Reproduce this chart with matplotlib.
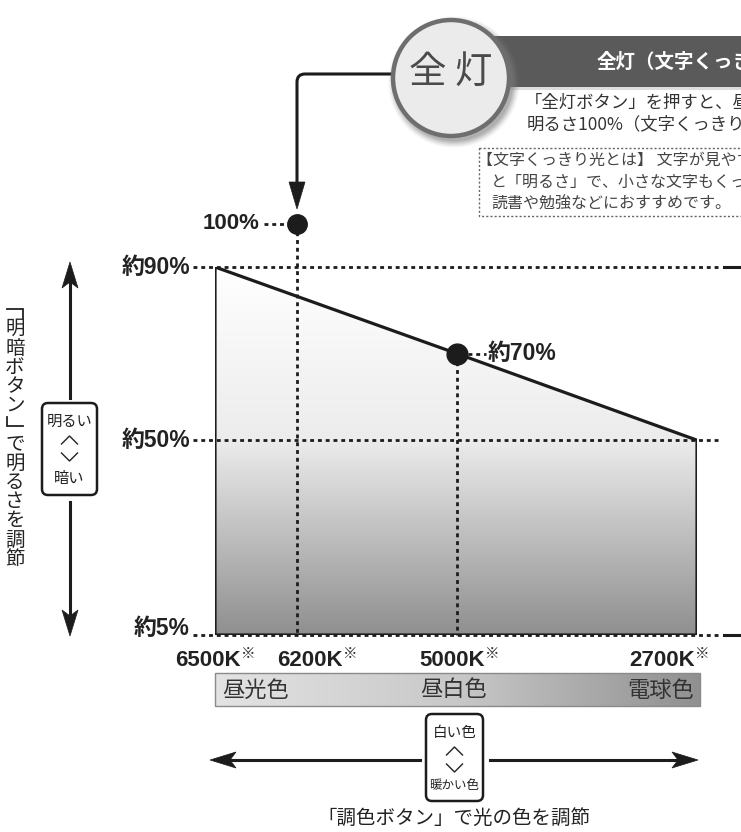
import numpy as np
import matplotlib
matplotlib.use('Agg')
import matplotlib.pyplot as plt
from matplotlib.patches import Polygon, Rectangle, FancyBboxPatch, Circle, PathPatch
from matplotlib.path import Path
from matplotlib.colors import LinearSegmentedColormap

# ---------------- data ----------------
temps = ['6500K', '6200K', '5000K', '2700K']
temp_pos = [0.0, 0.17, 0.502, 1.0]          # position of each temperature along the colour axis
line_idx = [0, 2, 3]                         # temperatures on the sloped edge
line_vals = [90, 70, 50]                     # brightness (%) at 6500K, 5000K, 2700K
min_val = 5                                  # minimum brightness (%)
full_idx = 1                                 # full-light colour temperature (6200K)
full_val = 100                               # full-light brightness (%)
y_ticks = [90, 50, 5]
y_ticklabels = ['約90%', '約50%', '約5%']
full_label = '100%'
mid_label = '約70%'
color_names = ['昼光色', '昼白色', '電球色']

title_circle = '全 灯'
banner_text = '全灯（文字くっきり光）'
desc_lines = ['「全灯ボタン」を押すと、昼白色の', '明るさ100%（文字くっきり光）になります。']
note_lines = ['【文字くっきり光とは】 文字が見やすい「光の色」',
              'と「明るさ」で、小さな文字もくっきり見える光です。',
              '読書や勉強などにおすすめです。']
v_label = '「明暗ボタン」で明るさを調節'
v_box = ['明るい', '暗い']
h_label = '「調色ボタン」で光の色を調節'
h_box = ['白い色', '暖かい色']

JP = 'Noto Sans CJK JP'
NUM = ['Liberation Sans', JP]
plt.rcParams['font.family'] = [JP, 'DejaVu Sans']

W, H = 741, 832
fig = plt.figure(figsize=(W / 100, H / 100), dpi=100)
fig.patch.set_facecolor('white')

# overlay axes in pixel coordinates for decorations
ov = fig.add_axes([0, 0, 1, 1], zorder=1)
ov.axis('off')

# chart axes (x: colour temperature layout, y: brightness %)
px_left, px_right, px_bottom, px_top = 215, 697, 635, 267
ax = fig.add_axes([px_left / W, (H - px_bottom) / H, (px_right - px_left) / W,
                   (px_bottom - px_top) / H], zorder=2)
ax.axis('off')

dark = '#1c1c1c'
dot_ls = (0, (1.4, 1.4))

# gradient fill area
verts = [(temp_pos[i], v) for i, v in zip(line_idx, line_vals)]
verts += [(temp_pos[line_idx[-1]], min_val), (temp_pos[line_idx[0]], min_val)]
poly = Polygon(verts, closed=True, fc='none', ec=dark, lw=2.3, zorder=5, joinstyle='miter')
ax.add_patch(poly)
cmap_v = LinearSegmentedColormap.from_list('v', [(0, '#8f8f8f'), (0.53, '#ececec'), (1, '#ffffff')])
grad = np.linspace(0, 1, 256).reshape(-1, 1)
im = ax.imshow(grad, extent=(0, 1, min_val, 90), origin='lower', aspect='auto', cmap=cmap_v,
               zorder=1, interpolation='bilinear')
im.set_clip_path(poly)
ax.set_xlim(0, 1)
ax.set_ylim(min_val, 90)

def fx(px):
    return (px - px_left) / (px_right - px_left)

# dotted reference lines
for v in y_ticks:
    ax.plot([fx(193), fx(721)], [v, v], ls=dot_ls, lw=2, color=dark, clip_on=False, zorder=3)
for v in (y_ticks[0], y_ticks[-1]):
    ax.plot([fx(724), fx(745)], [v, v], ls='-', lw=2.2, color=dark, clip_on=False, zorder=3)
ax.plot([temp_pos[full_idx]] * 2, [full_val, min_val], ls=dot_ls, lw=2, color=dark, clip_on=False, zorder=3)
ax.plot([temp_pos[line_idx[1]]] * 2, [line_vals[1], min_val], ls=dot_ls, lw=2, color=dark, clip_on=False, zorder=3)
ax.plot([fx(264), fx(287)], [full_val] * 2, ls=dot_ls, lw=2, color=dark, clip_on=False, zorder=3)
ax.plot([fx(468), fx(486)], [line_vals[1]] * 2, ls=dot_ls, lw=2, color=dark, clip_on=False, zorder=3)

# dots
ax.plot([temp_pos[full_idx]], [full_val], 'o', ms=14, color=dark, clip_on=False, zorder=7)
ax.plot([temp_pos[line_idx[1]]], [line_vals[1]], 'o', ms=15, color=dark, clip_on=False, zorder=7)

# y labels
for v, lab in zip(y_ticks, y_ticklabels):
    ax.text(fx(190), v, lab, ha='right', va='baseline' if v == min_val else 'center',
            fontsize=16.5, weight='bold', family=NUM, color='#222', clip_on=False)
ax.text(fx(259), full_val, full_label, ha='right', va='center', fontsize=16, weight='bold',
        family=NUM, color='#222', clip_on=False)
ax.text(fx(488), line_vals[1], mid_label, ha='left', va='center', fontsize=16.5, weight='bold',
        family=NUM, color='#222', clip_on=False)

# x labels
xlab_left = [175, 277, 419, 629]
for t, xl in zip(temps, xlab_left):
    tx = ov.text(xl, 660, t, ha='left', va='center', fontsize=16, weight='bold', family=NUM, color='#222')
    ov.annotate('※', xy=(1, 1), xycoords=tx, xytext=(0.5, 2), textcoords='offset points',
                ha='left', va='top', fontsize=10.5, color='#333')

# colour bar
cmap_h = LinearSegmentedColormap.from_list('h', [(0, '#e3e3e3'), (0.5, '#c8c8c8'), (1, '#909090')])
ov.imshow(np.linspace(0, 1, 256).reshape(1, -1), extent=(215, 700, 706, 673), cmap=cmap_h,
          aspect='auto', zorder=1, interpolation='bilinear')
ov.add_patch(Rectangle((215, 673), 485, 33, fc='none', ec='#8a8a8a', lw=1, zorder=2))
ov.text(222, 690, color_names[0], ha='left', va='center', fontsize=16, color='#333', zorder=3)
ov.text(454, 690, color_names[1], ha='center', va='center', fontsize=16, color='#333', zorder=3)
ov.text(694, 690, color_names[2], ha='right', va='center', fontsize=16, color='#333', zorder=3)

def chevrons(x, y_up, y_down, half=8, h=4):
    ov.plot([x - half, x, x + half], [y_up + h, y_up - h, y_up + h], color='#222', lw=1.0, zorder=6)
    ov.plot([x - half, x, x + half], [y_down - h, y_down + h, y_down - h], color='#222', lw=1.0, zorder=6)

# horizontal double arrow
ay = 760
ov.plot([230, 420], [ay, ay], color=dark, lw=2.2, zorder=3)
ov.plot([490, 678], [ay, ay], color=dark, lw=2.2, zorder=3)
ov.add_patch(Polygon([(210, ay), (236, ay - 8), (230, ay), (236, ay + 8)], closed=True, fc=dark, ec=dark, lw=0.5))
ov.add_patch(Polygon([(698, ay), (672, ay - 8), (678, ay), (672, ay + 8)], closed=True, fc=dark, ec=dark, lw=0.5))
ov.add_patch(FancyBboxPatch((426, 714), 57, 87, boxstyle='round,pad=0,rounding_size=6',
                            fc='white', ec=dark, lw=1.8, zorder=4))
ov.text(454.5, 733, h_box[0], ha='center', va='center', fontsize=10.5, color='#222', zorder=5)
ov.text(454.5, 786, h_box[1], ha='center', va='center', fontsize=9, color='#222', zorder=5)
chevrons(454.5, 751, 768)
ov.text(454, 818, h_label, ha='center', va='center', fontsize=14, color='#222')

# vertical double arrow
axx = 70
ov.plot([axx, axx], [282, 398], color=dark, lw=2.2, zorder=3)
ov.plot([axx, axx], [502, 616], color=dark, lw=2.2, zorder=3)
ov.add_patch(Polygon([(axx, 262), (axx - 8, 288), (axx, 282), (axx + 8, 288)], closed=True, fc=dark, ec=dark, lw=0.5))
ov.add_patch(Polygon([(axx, 636), (axx - 8, 610), (axx, 616), (axx + 8, 610)], closed=True, fc=dark, ec=dark, lw=0.5))
ov.add_patch(FancyBboxPatch((42, 403), 55, 92, boxstyle='round,pad=0,rounding_size=6',
                            fc='white', ec=dark, lw=1.8, zorder=4))
ov.text(69.5, 421, v_box[0], ha='center', va='center', fontsize=11, color='#222', zorder=5)
ov.text(69.5, 478, v_box[1], ha='center', va='center', fontsize=11, color='#222', zorder=5)
chevrons(69.5, 440, 457)

# vertical label: characters stacked; corner brackets drawn in their vertical forms
em = 19.2
vx = 15
for i, ch in enumerate(v_label):
    yc = 300 + i * em + em / 2
    if ch == '「':
        ov.plot([vx - 0.42 * em, vx + 0.42 * em, vx + 0.42 * em],
                [yc - 0.05 * em, yc - 0.05 * em, yc + 0.42 * em], color='#222', lw=1.3, solid_joinstyle='miter')
    elif ch == '」':
        ov.plot([vx - 0.42 * em, vx - 0.42 * em, vx + 0.42 * em],
                [yc - 0.42 * em, yc + 0.05 * em, yc + 0.05 * em], color='#222', lw=1.3, solid_joinstyle='miter')
    else:
        ov.text(vx, yc, ch, ha='center', va='center', fontsize=14, color='#222')

# top callout: banner
ov.add_patch(Rectangle((472, 39), 280, 51, fc='#bdbdbd', ec='none', alpha=0.5, zorder=2))
ov.add_patch(Rectangle((470, 36), 280, 51, fc='#5a5a5a', ec='none', zorder=3))
ov.text(597, 62, banner_text, ha='left', va='center', fontsize=14, weight='bold', color='white', zorder=4)

# circle with soft shadow
cx, cy, r = 451, 78, 58
for k, a in zip(range(8, 0, -1), np.linspace(0.04, 0.18, 8)):
    ov.add_patch(Circle((cx + 3, cy + 4), r + k, fc='#808080', ec='none', alpha=a, zorder=5))
ov.add_patch(Circle((cx, cy), r, fc='#ebebeb', ec='#6e6e6e', lw=3.2, zorder=6))
ov.text(cx, cy - 6, title_circle, ha='center', va='center', fontsize=27, color='#4a4a4a', zorder=7)

# descriptive text
ov.text(525, 103, desc_lines[0], ha='left', va='center', fontsize=12.5, color='#333')
ov.text(527, 124, desc_lines[1], ha='left', va='center', fontsize=12.5, color='#333')

# dotted note box
ov.add_patch(Rectangle((479, 148), 300, 68, fc='none', ec='#666', lw=1, ls=(0, (1.5, 1.5)), zorder=2))
ov.text(477, 160, note_lines[0], ha='left', va='center', fontsize=11.5, color='#444')
ov.text(491, 182, note_lines[1], ha='left', va='center', fontsize=11.5, color='#444')
ov.text(491, 204, note_lines[2], ha='left', va='center', fontsize=11.5, color='#444')

# leader arrow from the circle to the 100% point
path = Path([(392, 74), (305, 74), (297, 74), (297, 82), (297, 186)],
            [Path.MOVETO, Path.LINETO, Path.CURVE3, Path.CURVE3, Path.LINETO])
ov.add_patch(PathPatch(path, fc='none', ec=dark, lw=2.2, zorder=4))
ov.add_patch(Polygon([(289, 182), (305, 182), (297, 209)], closed=True, fc=dark, ec=dark, lw=0.5, zorder=4))

ov.set_xlim(0, W)
ov.set_ylim(H, 0)

fig.savefig('out.png', dpi=100)
